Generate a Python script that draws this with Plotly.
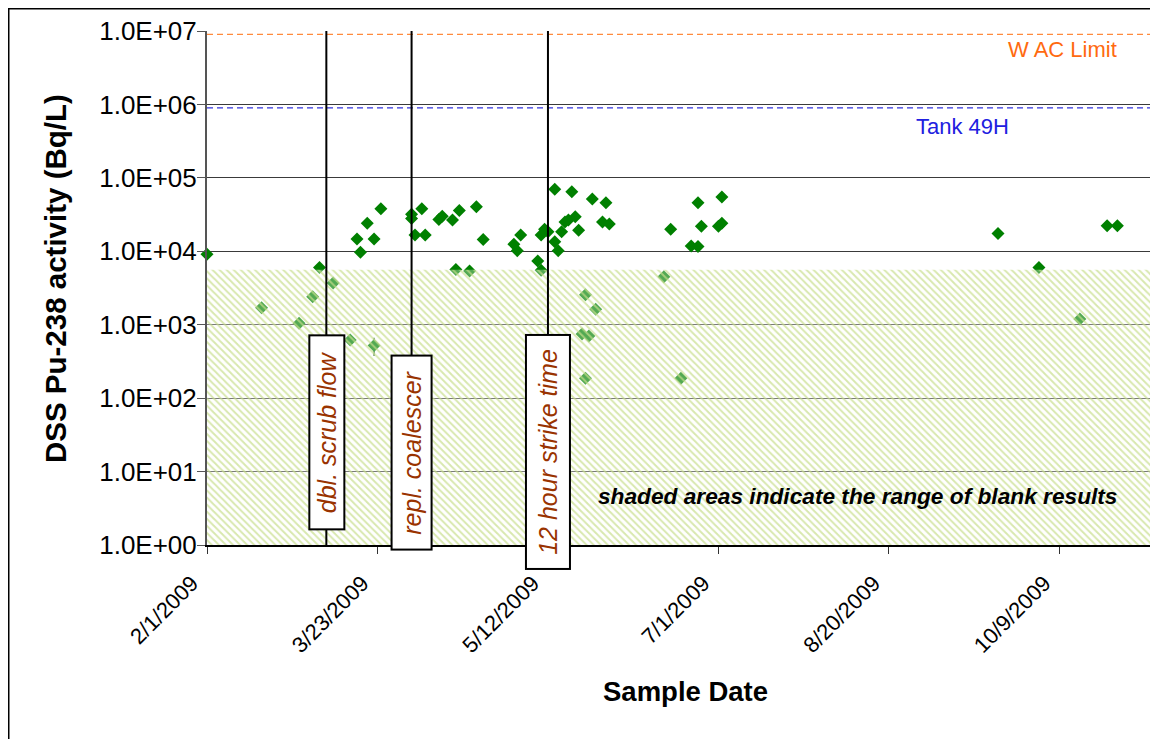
import plotly.graph_objects as go

# ---------------- data ----------------
sample_dates = [
    '2009-02-01', '2009-02-17', '2009-02-28', '2009-03-04', '2009-03-06', '2009-03-10',
    '2009-03-15', '2009-03-17', '2009-03-18', '2009-03-20', '2009-03-22', '2009-03-24',
    '2009-04-02', '2009-04-02', '2009-04-03', '2009-04-05', '2009-04-06', '2009-04-10',
    '2009-04-11', '2009-04-14', '2009-04-16', '2009-04-15', '2009-04-19', '2009-04-21',
    '2009-04-23', '2009-05-02', '2009-05-03', '2009-05-04', '2009-05-09', '2009-05-10',
    '2009-05-10', '2009-05-11', '2009-05-12', '2009-05-14', '2009-05-14', '2009-05-15',
    '2009-05-16', '2009-05-17', '2009-05-18', '2009-05-19', '2009-05-20', '2009-05-21',
    '2009-05-22', '2009-05-23', '2009-05-23', '2009-05-24', '2009-05-25', '2009-05-26',
    '2009-05-28', '2009-05-29', '2009-05-30', '2009-06-15', '2009-06-17', '2009-06-20',
    '2009-06-23', '2009-06-25', '2009-06-25', '2009-06-26', '2009-07-01', '2009-07-02',
    '2009-07-02', '2009-09-21', '2009-10-03', '2009-10-15', '2009-10-23', '2009-10-26',
]
pu238_bq_per_l = [
    9.1e3, 1.7e3, 1.05e3, 2.4e3, 6.0e3, 3.7e3,
    6.2e2, 1.47e4, 9.7e3, 2.4e4, 1.47e4, 3.8e4,
    3.2e4, 2.8e4, 1.66e4, 3.8e4, 1.66e4, 2.72e4,
    3.0e4, 2.66e4, 3.6e4, 5.67e3, 5.4e3, 4.04e4,
    1.45e4, 1.25e4, 1.02e4, 1.66e4, 7.4e3, 5.5e3,
    1.66e4, 2.0e4, 1.85e4, 6.97e4, 1.35e4, 1.02e4,
    1.85e4, 2.5e4, 2.66e4, 6.45e4, 2.95e4, 1.94e4,
    7.46e2, 2.56e3, 1.86e2, 7.0e2, 5.14e4, 1.62e3,
    2.5e4, 4.57e4, 2.35e4, 4.5e3, 1.99e4, 1.86e2,
    1.18e4, 1.16e4, 4.57e4, 2.2e4, 2.2e4, 2.4e4,
    5.5e4, 1.75e4, 6.0e3, 1.2e3, 2.22e4, 2.22e4,
]

err_dates = ['2009-03-22']
err_values = [5.2e2]
err_half_width = [1.45e2]

event_dates = ['2009-03-08', '2009-04-02', '2009-05-12']
event_labels = ['dbl. scrub flow', 'repl. coalescer', '12 hour strike time']

wac_limit = 9.0e6
tank_49h = 9.0e5
blank_low = 1.0
blank_high = 5.6e3

x_start = '2009-02-01'
x_end = '2009-11-06 22:00'
x_tick_dates = ['2009-02-01', '2009-03-23', '2009-05-12', '2009-07-01', '2009-08-20', '2009-10-09']
x_tick_text = ['2/1/2009', '3/23/2009', '5/12/2009', '7/1/2009', '8/20/2009', '10/9/2009']
y_tick_vals = [1e0, 1e1, 1e2, 1e3, 1e4, 1e5, 1e6, 1e7]
y_tick_text = ['1.0E+00', '1.0E+01', '1.0E+02', '1.0E+03', '1.0E+04', '1.0E+05', '1.0E+06', '1.0E+07']

# ---------------- figure ----------------
FONT = 'Liberation Sans, Arial, sans-serif'
GREEN = '#008000'
BROWN = '#993300'

OFF = 8  # page body margin offset
W, H = 1158, 739
ML, MT = 199, 23
MB = H - 537
MR = W - 1150
PW, PH = W - ML - MR, H - MT - MB


def px_to_paper_x(px):
    return (px - OFF - ML) / PW


def px_to_paper_y(py):
    return (H - MB - (py - OFF)) / PH


fig = go.Figure()

fig.add_trace(go.Scatter(
    x=sample_dates, y=pu238_bq_per_l, mode='markers',
    marker=dict(symbol='diamond', size=10, color=GREEN, line=dict(width=0)),
    cliponaxis=False, showlegend=False, hoverinfo='x+y'))

fig.add_trace(go.Scatter(
    x=err_dates, y=err_values, mode='markers',
    marker=dict(symbol='diamond', size=10, color=GREEN, line=dict(width=0)),
    error_y=dict(type='data', array=err_half_width, color='#1f5f1f', thickness=1.5, width=0),
    showlegend=False))

# blank-result shaded band (drawn over the markers, semi-transparent)
fig.add_trace(go.Scatter(
    x=[x_start, x_end, x_end, x_start, x_start],
    y=[blank_low, blank_low, blank_high, blank_high, blank_low],
    mode='lines', line=dict(width=0), fill='toself',
    fillcolor='rgba(255,255,255,0.32)',
    fillpattern=dict(shape='\\', size=5, solidity=0.4,
                     fgcolor='rgba(200,222,140,0.7)', bgcolor='rgba(255,255,255,0.32)',
                     fillmode='replace'),
    showlegend=False, hoverinfo='skip'))

fig.add_trace(go.Scatter(
    x=[x_start, x_end], y=[wac_limit, wac_limit], mode='lines',
    line=dict(color='#FF8A3D', width=1.2, dash='6px,4px'), showlegend=False, hoverinfo='skip'))
fig.add_trace(go.Scatter(
    x=[x_start, x_end], y=[tank_49h, tank_49h], mode='lines',
    line=dict(color='#3333DD', width=1.2, dash='6px,4px'), showlegend=False, hoverinfo='skip'))

ev_x, ev_y = [], []
for d in event_dates:
    ev_x += [d, d, None]
    ev_y += [y_tick_vals[0], y_tick_vals[-1], None]
fig.add_trace(go.Scatter(
    x=ev_x, y=ev_y, mode='lines', line=dict(color='black', width=2),
    showlegend=False, hoverinfo='skip'))

# event label boxes: (center_y_px, length_px, thickness_px)
box_geom = [(432, 196, 37), (453, 196, 42), (452, 236, 46)]
annotations = []
for d, lab, (cy, length, thick) in zip(event_dates, event_labels, box_geom):
    annotations.append(dict(
        x=d, xref='x', y=px_to_paper_y(cy), yref='paper',
        text=lab, textangle=-90, showarrow=False,
        font=dict(family=FONT, size=25, color=BROWN, style='italic'),
        bgcolor='white', bordercolor='black', borderwidth=2, borderpad=0,
        width=length - 4, height=thick - 4,
        xanchor='center', yanchor='middle'))

annotations += [
    dict(x=px_to_paper_x(1062), y=px_to_paper_y(50), xref='paper', yref='paper',
         text='W AC Limit', showarrow=False, xanchor='center', yanchor='middle',
         font=dict(family=FONT, size=22, color='#FF6A10')),
    dict(x=px_to_paper_x(962), y=px_to_paper_y(126), xref='paper', yref='paper',
         text='Tank 49H', showarrow=False, xanchor='center', yanchor='middle',
         font=dict(family=FONT, size=22, color='#2020E0')),
    dict(x=px_to_paper_x(857), y=px_to_paper_y(496), xref='paper', yref='paper',
         text='<b><i>shaded areas indicate the range of blank results</i></b>', showarrow=False,
         xanchor='center', yanchor='middle',
         font=dict(family=FONT, size=22.7, color='black')),
    dict(x=px_to_paper_x(685), y=px_to_paper_y(692), xref='paper', yref='paper',
         text='<b>Sample Date</b>', showarrow=False, xanchor='center', yanchor='middle',
         font=dict(family=FONT, size=27.5, color='black')),
    dict(x=px_to_paper_x(55), y=px_to_paper_y(279), xref='paper', yref='paper',
         text='<b>DSS Pu-238 activity (Bq/L)</b>', showarrow=False, textangle=-90,
         xanchor='center', yanchor='middle',
         font=dict(family=FONT, size=29.5, color='black')),
]

shapes = [dict(type='rect', xref='paper', yref='paper',
               x0=px_to_paper_x(8.75), x1=px_to_paper_x(1400),
               y0=px_to_paper_y(1000), y1=px_to_paper_y(8.75),
               line=dict(color='black', width=1.5), fillcolor='rgba(0,0,0,0)', layer='below')]

fig.update_layout(
    width=W, height=H,
    margin=dict(l=ML, r=MR, t=MT, b=MB, autoexpand=False),
    paper_bgcolor='white', plot_bgcolor='white',
    font=dict(family=FONT, color='black'),
    annotations=annotations, shapes=shapes,
    showlegend=False,
)
fig.update_xaxes(
    type='date', range=[x_start, x_end],
    tickvals=x_tick_dates, ticktext=x_tick_text, tickangle=-45,
    tickfont=dict(family=FONT, size=22, color='black'),
    ticks='outside', ticklen=7, tickcolor='#333', tickwidth=1,
    ticklabelshift=-15, ticklabelstandoff=8,
    showline=True, linecolor='black', linewidth=1.5,
    showgrid=False, zeroline=False)
fig.update_yaxes(
    type='log', range=[0, 7],
    tickvals=y_tick_vals, ticktext=y_tick_text,
    tickfont=dict(family=FONT, size=26, color='black'),
    ticks='outside', ticklen=8, tickcolor='#555', tickwidth=1,
    ticklabelstandoff=-5,
    showline=True, linecolor='#555', linewidth=2,
    showgrid=True, gridcolor='#3a3a3a', gridwidth=1, zeroline=False)

fig.write_html('out.html')
